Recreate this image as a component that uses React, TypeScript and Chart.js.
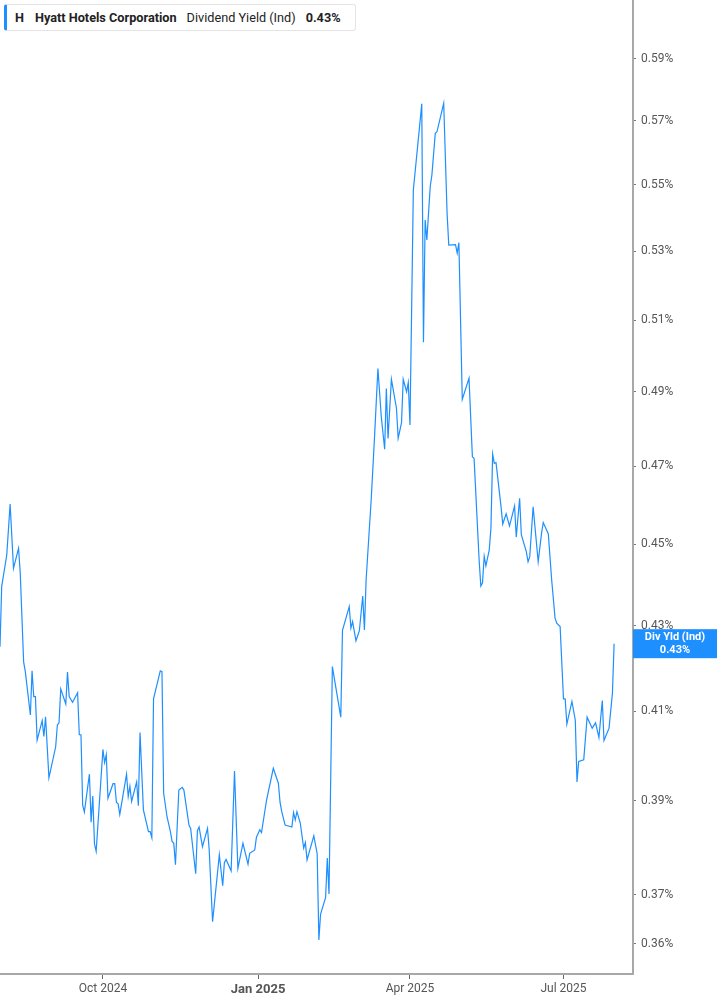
import React, { useEffect, useRef } from "react";
import { Chart, registerables } from "chart.js";

Chart.register(...registerables);

// Days since 2024-08-01 (x positions of each observation)
const dayOffsets = [
  0, 1, 4, 6, 8, 11, 12, 14, 15, 18,
  19, 20, 21, 22, 25, 26, 27, 29, 33, 34,
  35, 36, 39, 40, 41, 43, 46, 47, 48, 49,
  50, 53, 54, 55, 56, 57, 61, 62, 63, 64,
  67, 68, 69, 70, 71, 75, 76, 77, 78, 81,
  82, 83, 85, 88, 89, 90, 91, 95, 96, 97,
  99, 101, 102, 103, 104, 106, 108, 109, 112, 113,
  116, 117, 118, 120, 123, 124, 126, 130, 132, 133,
  134, 137, 139, 141, 144, 147, 148, 151, 152, 154,
  155, 158, 162, 165, 166, 167, 169, 173, 174, 175,
  176, 178, 180, 181, 182, 186, 188, 189, 190, 193,
  194, 195, 197, 202, 203, 207, 208, 209, 211, 213,
  215, 216, 217, 220, 222, 224, 226, 228, 229, 230,
  232, 235, 236, 238, 239, 241, 242, 243, 245, 250,
  251, 252, 253, 255, 256, 258, 259, 263, 265, 266,
  270, 271, 272, 274, 278, 280, 281, 284, 285, 286,
  287, 288, 290, 291, 292, 293, 294, 297, 298, 300,
  302, 305, 306, 308, 309, 312, 313, 314, 316, 319,
  321, 322, 325, 327, 329, 330, 332, 334, 335, 336,
  339, 341, 342, 343, 346, 348, 351, 353, 355, 357,
  358, 361, 363, 364,
];

// Dividend yield (Ind), in percent
const yieldPct = [
  0.4250, 0.4395, 0.4473, 0.4602, 0.4440, 0.4490, 0.4429, 0.4214, 0.4191, 0.4091,
  0.4193, 0.4133, 0.4133, 0.4034, 0.4078, 0.4042, 0.4087, 0.3950, 0.4019, 0.4068,
  0.4073, 0.4151, 0.4116, 0.4190, 0.4133, 0.4120, 0.4142, 0.4046, 0.4046, 0.3890,
  0.3875, 0.3958, 0.3853, 0.3910, 0.3807, 0.3791, 0.4013, 0.3984, 0.4001, 0.3905,
  0.3937, 0.3937, 0.3896, 0.3893, 0.3870, 0.3958, 0.3909, 0.3931, 0.3898, 0.3941,
  0.3889, 0.4051, 0.3880, 0.3833, 0.3833, 0.3820, 0.4128, 0.4193, 0.4191, 0.3916,
  0.3865, 0.3833, 0.3812, 0.3808, 0.3763, 0.3923, 0.3929, 0.3923, 0.3847, 0.3840,
  0.3744, 0.3835, 0.3843, 0.3801, 0.3840, 0.3794, 0.3645, 0.3784, 0.3719, 0.3767,
  0.3774, 0.3750, 0.3965, 0.3755, 0.3808, 0.3764, 0.3787, 0.3794, 0.3821, 0.3837,
  0.3831, 0.3901, 0.3971, 0.3938, 0.3896, 0.3876, 0.3847, 0.3843, 0.3874, 0.3858,
  0.3876, 0.3851, 0.3798, 0.3810, 0.3773, 0.3824, 0.3786, 0.3608, 0.3660, 0.3695,
  0.3777, 0.3702, 0.4203, 0.4086, 0.4289, 0.4346, 0.4294, 0.4310, 0.4264, 0.4288,
  0.4372, 0.4290, 0.4411, 0.4612, 0.4778, 0.4964, 0.4832, 0.4745, 0.4909, 0.4774,
  0.4934, 0.4855, 0.4774, 0.4816, 0.4934, 0.4900, 0.4925, 0.4810, 0.5484, 0.5754,
  0.5037, 0.5393, 0.5333, 0.5494, 0.5530, 0.5660, 0.5665, 0.5756, 0.5413, 0.5318,
  0.5319, 0.5294, 0.5325, 0.4879, 0.4937, 0.4725, 0.4721, 0.4460, 0.4396, 0.4404,
  0.4470, 0.4446, 0.4486, 0.4541, 0.4732, 0.4708, 0.4710, 0.4595, 0.4551, 0.4577,
  0.4546, 0.4597, 0.4518, 0.4617, 0.4524, 0.4481, 0.4456, 0.4469, 0.4595, 0.4456,
  0.4528, 0.4555, 0.4526, 0.4411, 0.4318, 0.4306, 0.4298, 0.4128, 0.4128, 0.4070,
  0.4122, 0.4079, 0.3941, 0.3986, 0.3990, 0.4086, 0.4061, 0.4073, 0.4040, 0.4124,
  0.4033, 0.4061, 0.4141, 0.4257,
];

const yTickValues = [0.36, 0.37, 0.39, 0.41, 0.43, 0.45, 0.47, 0.49, 0.51, 0.53, 0.55, 0.57, 0.59];
const xTickDays = [61, 153, 243, 334];
const xTickLabels = ["Oct 2024", "Jan 2025", "Apr 2025", "Jul 2025"];
const boldXTick = "Jan 2025";

const tickerSymbol = "H";
const companyName = "Hyatt Hotels Corporation";
const metricName = "Dividend Yield (Ind)";
const badgeTitle = "Div Yld (Ind)";
const currentValueLabel = "0.43%";

const X_MIN = 0;
const X_MAX = 375.2;
const Y_MIN = 0.35402;
const Y_MAX = 0.60975;

const LINE_BLUE = "#1e8fff";
const FONT = "Roboto, 'Noto Sans', sans-serif";

export default function App() {
  const canvasRef = useRef<HTMLCanvasElement | null>(null);

  useEffect(() => {
    document.body.style.margin = "0";
    const canvas = canvasRef.current;
    if (!canvas) return;

    const badgePlugin = {
      id: "valueBadge",
      afterDraw(chart: any) {
        const ctx = chart.ctx;
        const yScale = chart.scales.y;
        const last = yieldPct[yieldPct.length - 1];
        const cy = yScale.getPixelForValue(last);
        const left = chart.chartArea.right;
        const w = chart.width - left;
        const h = 29;
        ctx.save();
        ctx.fillStyle = LINE_BLUE;
        ctx.fillRect(left, cy - h / 2, w, h);
        ctx.fillStyle = "#ffffff";
        ctx.textAlign = "center";
        ctx.textBaseline = "middle";
        ctx.font = `bold 11px ${FONT}`;
        ctx.fillText(badgeTitle, left + w / 2, cy - 6);
        ctx.fillText(currentValueLabel, left + w / 2, cy + 7);
        ctx.restore();
      },
    };

    const chart = new Chart(canvas, {
      type: "line",
      data: {
        datasets: [
          {
            data: dayOffsets.map((d, i) => ({ x: d, y: yieldPct[i] })),
            borderColor: LINE_BLUE,
            borderWidth: 1.2,
            pointRadius: 0,
            tension: 0,
            fill: false,
          },
        ],
      },
      options: {
        animation: false,
        responsive: false,
        maintainAspectRatio: false,
        layout: { padding: 0 },
        plugins: {
          legend: { display: false },
          tooltip: { enabled: false },
        },
        scales: {
          x: {
            type: "linear",
            bounds: "data",
            min: X_MIN,
            max: X_MAX,
            afterBuildTicks: (s: any) => {
              s.ticks = xTickDays.map((v) => ({ value: v }));
            },
            afterFit: (s: any) => {
              s.height = 31;
              s.paddingLeft = 0;
              s.paddingRight = 0;
            },
            grid: {
              drawOnChartArea: false,
              drawTicks: true,
              tickLength: 5,
              color: "#666",
            },
            border: { display: true, color: "#a8a8a8", width: 2 },
            ticks: {
              autoSkip: false,
              maxRotation: 0,
              padding: 3,
              color: "#555",
              callback: (_v: any, i: number) => xTickLabels[i],
              font: (ctx: any) =>
                xTickLabels[ctx.index] === boldXTick
                  ? { family: FONT, size: 13, weight: "bold" }
                  : { family: FONT, size: 12 },
            },
          },
          y: {
            type: "logarithmic",
            position: "right",
            bounds: "data",
            min: Y_MIN,
            max: Y_MAX,
            afterBuildTicks: (s: any) => {
              s.ticks = yTickValues.map((v) => ({ value: v }));
            },
            afterFit: (s: any) => {
              s.width = 84;
              s.paddingTop = 0;
              s.paddingBottom = 0;
            },
            grid: {
              drawOnChartArea: false,
              drawTicks: true,
              tickLength: 3,
              color: "#777",
            },
            border: { display: true, color: "#a8a8a8", width: 2 },
            ticks: {
              autoSkip: false,
              padding: 5,
              color: "#555",
              font: { family: FONT, size: 12 },
              callback: (v: any) => `${Number(v).toFixed(2)}%`,
            },
          },
        },
      },
      plugins: [badgePlugin],
    } as any);

    return () => chart.destroy();
  }, []);

  return (
    <div style={{ position: "relative", width: 717, height: 1005, background: "#fff" }}>
      <canvas ref={canvasRef} width={717} height={1005} style={{ display: "block", width: 717, height: 1005 }} />
      <div
        style={{
          position: "absolute",
          left: 4,
          top: 4,
          height: 25,
          display: "flex",
          alignItems: "center",
          background: "#fff",
          border: "1px solid #e4e4e4",
          borderLeft: `3px solid ${LINE_BLUE}`,
          borderRadius: 3,
          paddingLeft: 8,
          paddingRight: 14,
          fontFamily: FONT,
          fontSize: 12.7,
          color: "#222",
          whiteSpace: "nowrap",
        }}
      >
        <span style={{ fontWeight: 700, marginRight: 11 }}>{tickerSymbol}</span>
        <span style={{ fontWeight: 700, marginRight: 10 }}>{companyName}</span>
        <span style={{ marginRight: 10 }}>{metricName}</span>
        <span style={{ fontWeight: 700 }}>{currentValueLabel}</span>
      </div>
    </div>
  );
}
